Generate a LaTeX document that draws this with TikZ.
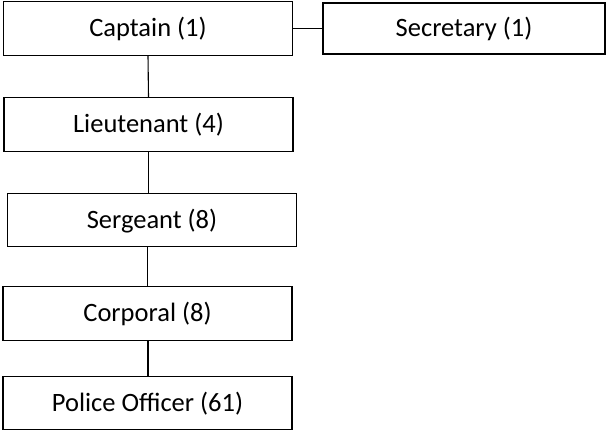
\documentclass[tikz,border=0pt]{standalone}
\usepackage{fontspec}
\setmainfont{Carlito}
\usetikzlibrary{positioning}

\begin{document}
\begin{tikzpicture}[x=1pt,y=1pt,
   font=\fontsize{26.5}{30}\selectfont,
   node distance=42pt,
   rank/.style={rectangle,draw=black,line width=1.6pt,fill=white,
               minimum width=289pt,minimum height=54pt,inner sep=0pt,outer sep=0pt,
               align=center,text height=17pt,text depth=1pt},
   link/.style={black,line width=1.1pt}]
   \useasboundingbox (0,0) rectangle (612,-432);
   \node[rank] (capt) at (148,-28.5) {Captain (1)};
   \node[rank,minimum width=282pt,minimum height=51pt] (secr) at (464,-28.5) {Secretary (1)};
   \node[rank,below=42pt of capt,xshift=0.5pt] (lieut) {Lieutenant (4)};
   \node[rank,below=42pt of lieut,xshift=3.5pt,minimum height=53pt] (serg) {Sergeant (8)};
   \node[rank,below=40pt of serg,xshift=-4.5pt] (corp) {Corporal (8)};
   \node[rank,below=36pt of corp,minimum height=53pt] (pol) {Police Officer (61)};
   \draw[link] (capt.east) -- (secr.west);
   \draw[link] (capt.south) -- (lieut.north);
   \draw[link] (lieut.south) -- (lieut.south |- serg.north);
   \draw[link] (corp.north |- serg.south) -- (corp.north);
   \draw[link,line width=2pt] (corp.south) -- (pol.north);
\end{tikzpicture}
\end{document}
